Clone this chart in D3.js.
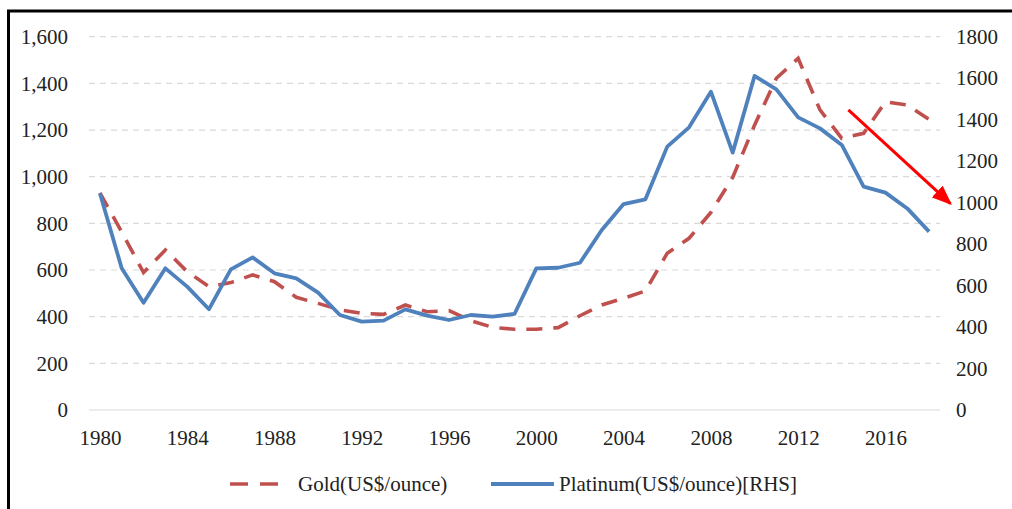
<!DOCTYPE html>
<html lang="en">
<head>
    <meta charset="UTF-8">
    <title>Gold vs Platinum</title>
    <script src="https://d3js.org/d3.v7.min.js"></script>
    <style>
        body { margin: 0; background: #fff; }
        text { font-family: "Liberation Serif", "Times New Roman", serif; fill: #222; }
    </style>
</head>
<body>
    <svg width="1012" height="509"></svg>
    <script>
        // Values
        const years = d3.range(1980, 2019);
        const gold = [931, 763, 589, 686, 593, 529, 546, 579, 550, 483, 457, 429, 414,
                      410, 450, 421, 426, 383, 354, 346, 346, 353, 404, 450, 479, 510,
                      672, 736, 847, 997, 1221, 1422, 1507, 1286, 1164, 1186, 1321, 1307, 1245];
        const platinum = [1045, 683, 517, 683, 595, 486, 678, 736, 659, 635, 566, 458, 426,
                          431, 485, 455, 434, 458, 450, 463, 683, 686, 710, 868, 993, 1016,
                          1270, 1363, 1535, 1241, 1611, 1546, 1411, 1358, 1278, 1077, 1048, 972, 860];
        const xTicks = d3.range(1980, 2017, 4);
        const leftTicks = d3.range(0, 1601, 200);
        const rightTicks = d3.range(0, 1801, 200);
        // trend arrow (year, RHS value)
        const arrowFrom = [2014.3, 1447];
        const arrowTo = [2018.98, 995];

        const svg = d3.select("svg");
        const plotL = 89, plotR = 940, plotT = 36.7, plotB = 410;

        const x = d3.scalePoint().domain(years).range([plotL, plotR]).padding(0.5);
        const yL = d3.scaleLinear().domain([0, 1600]).range([plotB, plotT]);
        const yR = d3.scaleLinear().domain([0, 1800]).range([plotB, plotT]);
        const xf = v => x(Math.floor(v)) + (v - Math.floor(v)) * x.step();

        // frame
        svg.append("rect")
            .attr("x", 8.5).attr("y", 11)
            .attr("width", 1020).attr("height", 520)
            .attr("fill", "none").attr("stroke", "#000").attr("stroke-width", 3);

        // gridlines
        svg.append("g").selectAll("line")
            .data(leftTicks)
            .join("line")
            .attr("x1", plotL).attr("x2", plotR)
            .attr("y1", d => yL(d)).attr("y2", d => yL(d))
            .attr("stroke", "#d9d9d9")
            .attr("stroke-width", 1.2)
            .attr("stroke-dasharray", d => d === 0 ? null : "6,5");

        // axes
        const axL = svg.append("g")
            .attr("transform", `translate(${plotL},0)`)
            .call(d3.axisLeft(yL).tickValues(leftTicks).tickFormat(d3.format(",")).tickSize(0).tickPadding(21));
        const axR = svg.append("g")
            .attr("transform", `translate(${plotR},0)`)
            .call(d3.axisRight(yR).tickValues(rightTicks).tickFormat(d3.format("d")).tickSize(0).tickPadding(16));
        const axX = svg.append("g")
            .attr("transform", `translate(0,${plotB})`)
            .call(d3.axisBottom(x).tickValues(xTicks).tickSize(0).tickPadding(20));
        [axL, axR, axX].forEach(a => {
            a.select(".domain").remove();
            a.selectAll("text").attr("font-size", 21).attr("fill", "#222")
                .attr("font-family", "Liberation Serif, serif");
        });

        // lines
        const lineL = d3.line().x((d, i) => x(years[i])).y(d => yL(d));
        const lineR = d3.line().x((d, i) => x(years[i])).y(d => yR(d));

        svg.append("path")
            .datum(gold)
            .attr("d", lineL)
            .attr("fill", "none")
            .attr("stroke", "#c0504d")
            .attr("stroke-width", 3.6)
            .attr("stroke-dasharray", "16,11");

        svg.append("path")
            .datum(platinum)
            .attr("d", lineR)
            .attr("fill", "none")
            .attr("stroke", "#4f81bd")
            .attr("stroke-width", 3.8)
            .attr("stroke-linejoin", "round");

        // arrow
        svg.append("defs").append("marker")
            .attr("id", "head")
            .attr("markerUnits", "userSpaceOnUse")
            .attr("markerWidth", 20).attr("markerHeight", 16)
            .attr("refX", 18).attr("refY", 8)
            .attr("orient", "auto")
            .append("path")
            .attr("d", "M0,0 L20,8 L0,16 Z")
            .attr("fill", "#ff0000");

        svg.append("line")
            .attr("x1", xf(arrowFrom[0])).attr("y1", yR(arrowFrom[1]))
            .attr("x2", xf(arrowTo[0])).attr("y2", yR(arrowTo[1]))
            .attr("stroke", "#ff0000")
            .attr("stroke-width", 3)
            .attr("marker-end", "url(#head)");

        // legend
        const lg = svg.append("g").attr("transform", "translate(0,484)");
        lg.append("line")
            .attr("x1", 230).attr("x2", 278)
            .attr("stroke", "#c0504d").attr("stroke-width", 3.6)
            .attr("stroke-dasharray", "18,12");
        lg.append("text").attr("x", 298).attr("y", 7).attr("font-size", 21).text("Gold(US$/ounce)");
        lg.append("line")
            .attr("x1", 491).attr("x2", 554)
            .attr("stroke", "#4f81bd").attr("stroke-width", 3.8);
        lg.append("text").attr("x", 559).attr("y", 7).attr("font-size", 21).text("Platinum(US$/ounce)[RHS]");
    </script>
</body>
</html>
